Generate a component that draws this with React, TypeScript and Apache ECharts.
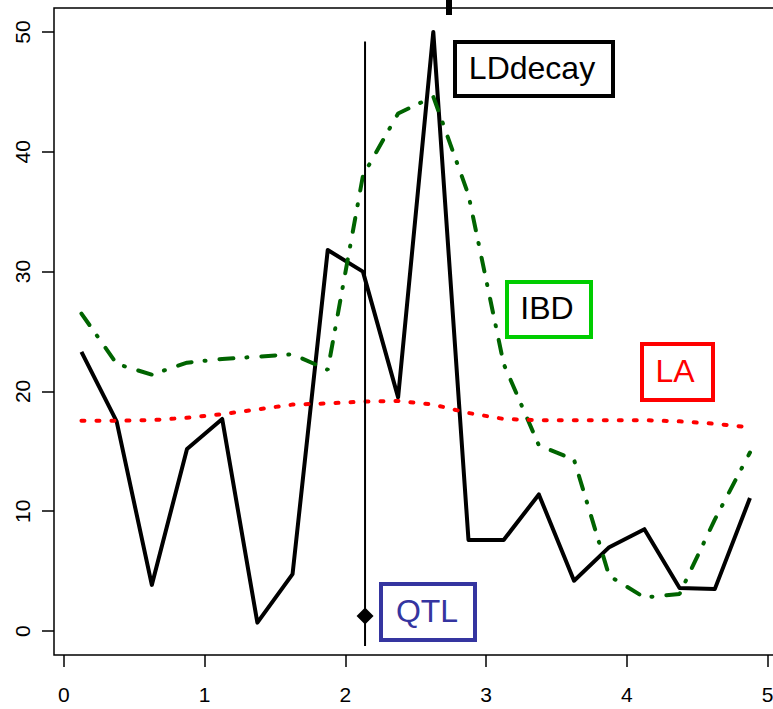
import React, { useEffect, useRef } from "react";
import * as echarts from "echarts";

// marker positions (same grid for all three statistics)
const positions = [0.125, 0.375, 0.625, 0.875, 1.125, 1.375, 1.625, 1.875, 2.125, 2.375, 2.625, 2.875, 3.125, 3.375, 3.625, 3.875, 4.125, 4.375, 4.625, 4.875];
const ldDecay = [23.3, 17.5, 3.85, 15.2, 17.7, 0.7, 4.75, 31.8, 30.0, 19.5, 50.0, 7.6, 7.6, 11.4, 4.2, 7.0, 8.5, 3.6, 3.5, 11.1];
const ibd = [26.5, 22.3, 21.4, 22.4, 22.7, 22.9, 23.1, 21.8, 38.0, 43.2, 44.6, 36.4, 22.3, 15.5, 14.3, 4.6, 2.8, 3.1, 9.3, 14.9];
const la = [17.55, 17.55, 17.6, 17.8, 18.1, 18.5, 18.9, 19.0, 19.15, 19.2, 18.9, 18.2, 17.7, 17.6, 17.6, 17.6, 17.6, 17.5, 17.3, 17.0];
const qtlX = 2.14;
const qtlLine = [-1.25, 49.2];
const qtlPoint = 1.25;
const xTicks = [0, 1, 2, 3, 4, 5];
const yTicks = [0, 10, 20, 30, 40, 50];

const FONT = "'Liberation Sans', Arial, Helvetica, sans-serif";

export default function App() {
  const ref = useRef<HTMLDivElement>(null);
  useEffect(() => {
    if (!ref.current) return;
    const chart = echarts.init(ref.current, undefined, { renderer: "svg" });
    const pair = (ys: number[]) => positions.map((x, i) => [x, ys[i]]);
    const box = (x: number, y: number, w: number, h: number, color: string, label: string, tx: number, ty: number, textColor: string) => [
      { type: "rect", shape: { x, y, width: w, height: h }, style: { fill: "transparent", stroke: color, lineWidth: 4 }, z: 100 },
      { type: "text", x: tx, y: ty, style: { text: label, fill: textColor, font: `32px ${FONT}`, align: "center", verticalAlign: "middle" }, z: 101 },
    ];
    chart.setOption({
      animation: false,
      backgroundColor: "#ffffff",
      grid: { left: 54, top: 8, right: -3, bottom: 54, show: true, borderColor: "#000", borderWidth: 1.5, containLabel: false, outerBoundsMode: "none" },
      xAxis: {
        type: "value", min: -0.07, max: 5.06,
        axisLine: { show: false, onZero: false },
        splitLine: { show: false },
        axisTick: { show: true, inside: false, customValues: xTicks, length: 12, lineStyle: { color: "#000", width: 1.5 } },
        axisLabel: { customValues: xTicks, fontSize: 21, fontFamily: FONT, color: "#000", margin: 29 },
      },
      yAxis: {
        type: "value", min: -2, max: 52,
        axisLine: { show: false, onZero: false },
        splitLine: { show: false },
        axisTick: { show: true, inside: false, customValues: yTicks, length: 12, lineStyle: { color: "#000", width: 1.5 } },
        axisLabel: { customValues: yTicks, fontSize: 21, fontFamily: FONT, color: "#000", margin: 21, rotate: 90 },
      },
      series: [
        { name: "LDdecay", type: "line", data: pair(ldDecay), showSymbol: false, symbol: "none", lineStyle: { color: "#000", width: 4, join: "round" }, z: 2 },
        { name: "IBD", type: "line", data: pair(ibd), showSymbol: false, symbol: "none", lineStyle: { color: "#006400", width: 4, type: [14, 13, 1, 14], cap: "round" }, z: 3 },
        { name: "LA", type: "line", data: pair(la), showSymbol: false, symbol: "none", lineStyle: { color: "#ff0000", width: 4, type: [3, 12], cap: "round" }, z: 4 },
        { name: "QTL", type: "line", data: qtlLine.map((y) => [qtlX, y]), showSymbol: false, symbol: "none", lineStyle: { color: "#000", width: 2 }, z: 5 },
        { name: "QTLpeak", type: "scatter", data: [[qtlX, qtlPoint]], symbol: "diamond", symbolSize: [17, 17], itemStyle: { color: "#000", opacity: 1 }, z: 6 },
      ],
      graphic: [
        { type: "rect", shape: { x: 446, y: 0, width: 6, height: 15 }, style: { fill: "#000" }, z: 100 },
        ...box(455, 42, 158, 54, "#000000", "LDdecay", 532, 68, "#000000"),
        ...box(507, 282, 84, 55, "#00cd00", "IBD", 547, 308, "#000000"),
        ...box(642, 344, 71, 56, "#ff0000", "LA", 675, 371, "#ff0000"),
        ...box(381, 584, 94, 56, "#3535a0", "QTL", 427, 611, "#3535a0"),
      ],
    });
    return () => chart.dispose();
  }, []);
  return <div ref={ref} style={{ position: "fixed", left: 0, top: 0, width: 773, height: 709, background: "#fff" }} />;
}
